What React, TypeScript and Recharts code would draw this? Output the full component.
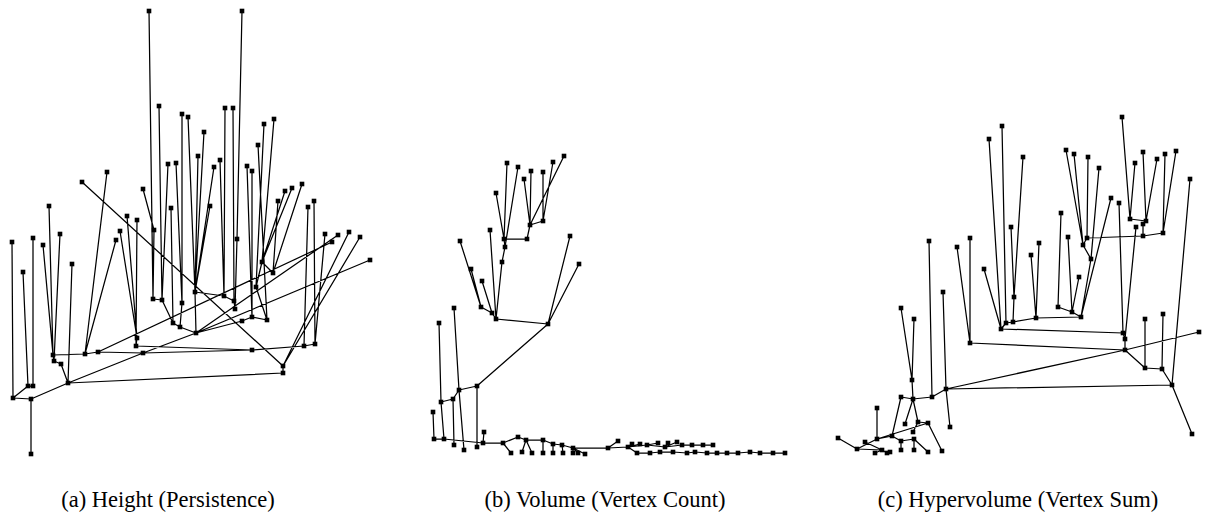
import React from 'react';
import { ComposedChart, Line, Scatter, XAxis, YAxis } from 'recharts';

// Each node: [x, y, parentIndex]  (parent -1 = root)
type TreeNode = [number, number, number];
type Link = [number, number];

const heightNodes: TreeNode[] = [
  [31, 454, -1], [31, 399, 0], [13, 398, 1], [12, 242, 2], [28, 386, 2],
  [33, 386, 4], [23, 272, 4], [33, 238, 5], [68, 383, 1], [72, 264, 8],
  [61, 364, 8], [54, 361, 10], [53, 355, 11], [49, 206, 12], [43, 245, 12],
  [60, 234, 11], [85, 354, 12], [98, 352, 16], [107, 172, 16], [116, 240, 16],
  [283, 373, 8], [283, 366, 20], [82, 182, 21], [349, 232, 21], [360, 237, 21],
  [143, 353, 8], [196, 333, 25], [252, 350, 25], [304, 346, 27], [315, 344, 28],
  [308, 207, 28], [314, 201, 29], [325, 234, 29], [338, 235, 26], [370, 260, 26],
  [332, 242, 17], [136, 346, 27], [137, 338, 36], [120, 231, 37], [127, 216, 37],
  [137, 220, 36], [180, 327, 26], [173, 323, 41], [162, 300, 42], [153, 299, 43],
  [149, 11, 44], [154, 230, 44], [143, 189, 46], [159, 106, 43], [168, 164, 43],
  [182, 303, 41], [182, 114, 50], [176, 163, 50], [171, 208, 42], [195, 292, 26],
  [188, 117, 54], [198, 156, 54], [204, 132, 54], [224, 296, 54], [234, 301, 58],
  [235, 309, 59], [225, 108, 58], [233, 108, 59], [237, 239, 60], [242, 11, 63],
  [220, 160, 58], [214, 167, 54], [210, 206, 54], [242, 321, 26], [252, 317, 68],
  [267, 320, 69], [247, 166, 69], [252, 171, 69], [258, 145, 70], [256, 287, 70],
  [262, 262, 74], [273, 273, 75], [264, 124, 74], [274, 119, 75], [292, 188, 75],
  [285, 191, 75], [278, 201, 76], [302, 184, 76],
];
const heightLinks: Link[] = [[17, 25]];

const volumeNodes: TreeNode[] = [
  [496, 319, -1], [548, 324, 0], [570, 236, 1], [579, 264, 1], [492, 313, 0],
  [481, 307, 4], [460, 241, 5], [471, 269, 5], [482, 281, 4], [490, 230, 0],
  [502, 262, 0], [505, 247, 10], [504, 239, 11], [518, 167, 11], [507, 163, 12],
  [496, 193, 12], [527, 239, 12], [530, 225, 16], [524, 179, 17], [531, 171, 17],
  [543, 221, 17], [543, 172, 20], [553, 162, 20], [564, 156, 17], [477, 386, 1],
  [459, 390, 24], [477, 447, 24], [454, 308, 25], [464, 450, 25], [453, 399, 25],
  [454, 445, 29], [441, 402, 29], [439, 323, 31], [444, 439, 31], [434, 439, 33],
  [433, 412, 34], [483, 443, 33], [484, 432, 36], [503, 443, 36], [518, 437, 38],
  [526, 440, 39], [543, 440, 40], [553, 444, 41], [511, 453, 38], [522, 452, 40],
  [532, 453, 40], [543, 453, 41], [553, 453, 42], [562, 445, 42], [573, 448, 48],
  [608, 448, 49], [563, 453, 48], [573, 453, 49], [578, 453, 49], [585, 454, 49],
  [618, 441, 50], [628, 447, 50], [632, 444, 56], [640, 444, 56], [647, 445, 56],
  [637, 453, 56], [650, 453, 60], [658, 443, 59], [660, 452, 61], [665, 447, 59],
  [668, 443, 64], [673, 452, 63], [677, 442, 64], [682, 445, 64], [687, 453, 66],
  [692, 445, 68], [695, 452, 69], [703, 445, 70], [707, 453, 71], [713, 445, 72],
  [717, 453, 73], [727, 453, 75], [738, 453, 76], [750, 452, 77], [760, 453, 78],
  [773, 453, 79], [785, 453, 80],
];
const volumeLinks: Link[] = [];

const hyperNodes: TreeNode[] = [
  [1125, 350, -1], [1199, 332, 0], [946, 389, 0], [1145, 368, 0], [1145, 319, 3],
  [1162, 369, 3], [1163, 314, 5], [1172, 385, 5], [1192, 434, 7], [1190, 179, 7],
  [1125, 339, 0], [1123, 333, 10], [970, 343, 0], [970, 238, 12], [957, 247, 12],
  [1119, 203, 11], [1136, 227, 10], [1001, 329, 11], [989, 139, 17], [984, 269, 17],
  [1006, 323, 17], [1002, 126, 20], [1013, 322, 20], [1014, 297, 22], [1011, 227, 23],
  [1023, 157, 23], [1036, 318, 22], [1031, 255, 26], [1039, 243, 26], [1081, 317, 26],
  [1072, 312, 29], [1058, 307, 30], [1061, 213, 31], [1068, 237, 30], [1079, 277, 30],
  [1111, 198, 29], [1091, 259, 29], [1099, 168, 36], [1083, 245, 36], [1066, 150, 38],
  [1074, 154, 38], [1087, 238, 38], [1088, 157, 41], [1143, 236, 41], [1163, 233, 43],
  [1165, 154, 44], [1176, 151, 44], [1143, 224, 43], [1146, 221, 47], [1143, 152, 48],
  [1157, 159, 48], [1130, 219, 48], [1122, 117, 51], [1135, 163, 51], [932, 397, 2],
  [929, 241, 54], [913, 399, 54], [901, 397, 56], [912, 380, 56], [901, 308, 58],
  [914, 319, 58], [943, 292, 2], [950, 427, 2], [905, 424, 56], [918, 422, 56],
  [928, 423, 64], [942, 451, 65], [892, 436, 57], [877, 439, 67], [877, 408, 68],
  [857, 449, 68], [838, 438, 70], [865, 442, 73], [882, 450, 70], [875, 453, 73],
  [887, 453, 73], [890, 452, 75], [901, 441, 67], [901, 450, 77], [914, 439, 77],
  [914, 450, 79], [928, 452, 79], [913, 432, 64],
];
const hyperLinks: Link[] = [[2, 7], [68, 65]];

const captionTexts = [
  '(a) Height (Persistence)',
  '(b) Volume (Vertex Count)',
  '(c) Hypervolume (Vertex Sum)',
];

type Pt = { x: number; y: number | null };

function toPoints(nodes: TreeNode[]): Pt[] {
  return nodes.map(([x, y]) => ({ x, y }));
}

function toSegments(nodes: TreeNode[], links: Link[]): Pt[] {
  const out: Pt[] = [];
  const push = (a: TreeNode, b: TreeNode) => {
    out.push({ x: a[0], y: a[1] }, { x: b[0], y: b[1] }, { x: b[0], y: null });
  };
  nodes.forEach((n) => {
    if (n[2] >= 0) push(nodes[n[2]], n);
  });
  links.forEach(([i, j]) => push(nodes[i], nodes[j]));
  return out;
}

const Square = (props: any) => {
  const { cx, cy } = props;
  if (cx == null || cy == null) return null;
  return <rect x={cx - 2.3} y={cy - 2.3} width={4.6} height={4.6} fill="#000" />;
};

const panels = [
  { nodes: heightNodes, links: heightLinks },
  { nodes: volumeNodes, links: volumeLinks },
  { nodes: hyperNodes, links: hyperLinks },
];

const captionX = [168, 605, 1018];

export default function App() {
  return (
    <div style={{ position: 'absolute', left: 0, top: 0, width: 1205, height: 529, background: '#fff' }}>
      <ComposedChart width={1205} height={529} margin={{ top: 0, right: 0, bottom: 0, left: 0 }}>
        <XAxis type="number" dataKey="x" domain={[0, 1205]} hide allowDataOverflow />
        <YAxis type="number" dataKey="y" domain={[0, 529]} reversed hide allowDataOverflow />
        {panels.map((p, i) => (
          <Line
            key={'l' + i}
            data={toSegments(p.nodes, p.links)}
            dataKey="y"
            type="linear"
            stroke="#000"
            strokeWidth={1.25}
            dot={false}
            activeDot={false}
            connectNulls={false}
            isAnimationActive={false}
            legendType="none"
          />
        ))}
        {panels.map((p, i) => (
          <Scatter
            key={'s' + i}
            data={toPoints(p.nodes)}
            dataKey="y"
            shape={<Square />}
            isAnimationActive={false}
            legendType="none"
          />
        ))}
      </ComposedChart>
      <svg width={1205} height={529} style={{ position: 'absolute', left: 0, top: 0, pointerEvents: 'none' }}>
        {captionTexts.map((t, i) => (
          <text
            key={t}
            x={captionX[i]}
            y={507}
            textAnchor="middle"
            fontFamily="'Liberation Serif', serif"
            fontSize={22.5}
            fill="#000"
          >
            {t}
          </text>
        ))}
      </svg>
    </div>
  );
}
